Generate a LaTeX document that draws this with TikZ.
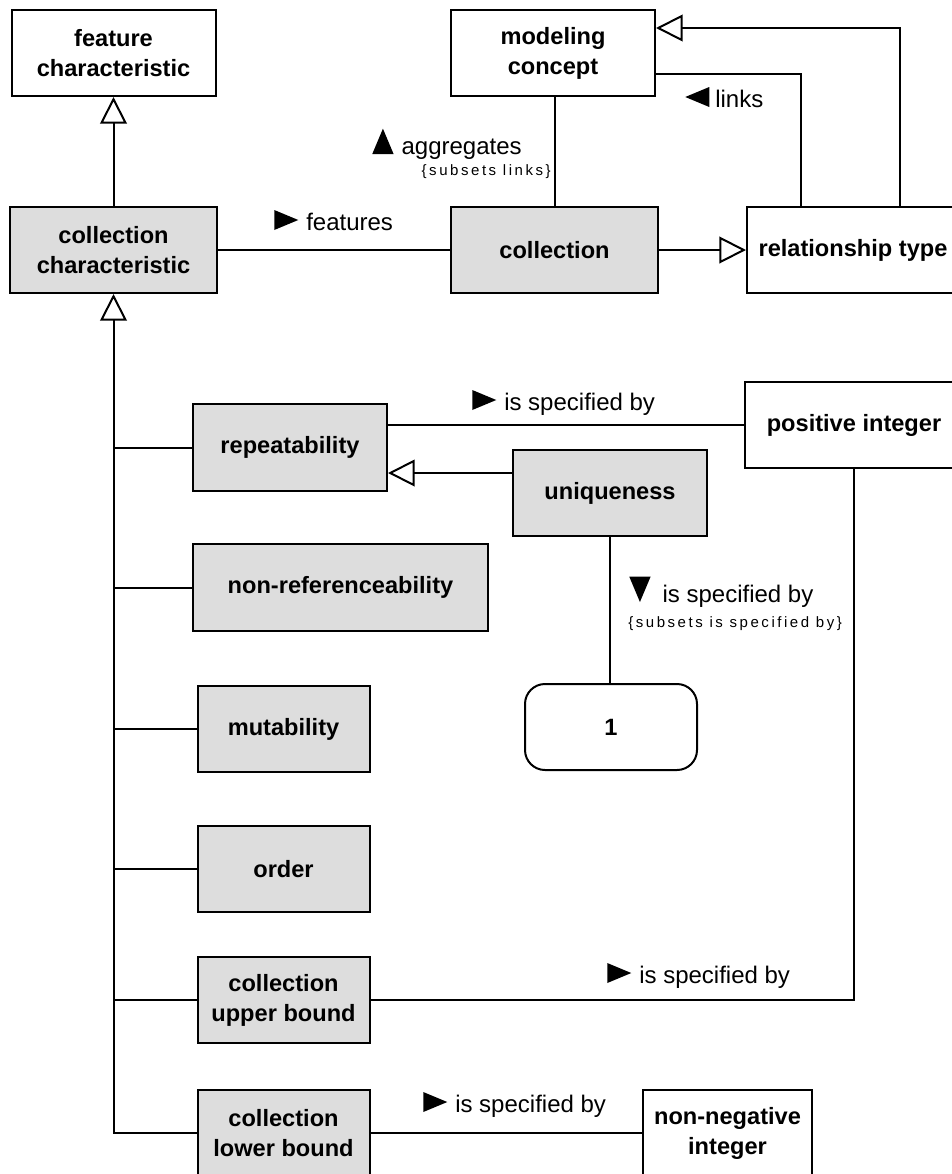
\documentclass[tikz,border=0pt]{standalone}
\usepackage{fontspec}
\setmainfont{Liberation Sans}
\newfontfamily\subfont[LetterSpace=17]{Liberation Sans}
\usetikzlibrary{arrows.meta,calc}
\definecolor{boxgray}{HTML}{DDDDDD}
\newcommand\trR{\tikz[baseline=0pt]\fill[black] (0pt,0pt)--(0pt,15pt)--(18pt,7.5pt)--cycle;}
\newcommand\trL{\tikz[baseline=0pt]\fill[black] (18pt,0pt)--(18pt,15pt)--(0pt,7.5pt)--cycle;}
\newcommand\trU{\tikz[baseline=0pt]\fill[black] (0pt,0pt)--(16pt,0pt)--(8pt,19pt)--cycle;}
\newcommand\trD{\tikz[baseline=0pt]\fill[black] (0pt,19pt)--(16pt,19pt)--(8pt,0pt)--cycle;}
\tikzset{
  umlbox/.style={draw, line width=1.5pt, inner sep=0pt, align=center,
    font=\fontsize{17.7}{22.5}\selectfont\bfseries},
  dims/.style 2 args={minimum width={#1*0.75pt}, minimum height={#2*0.75pt}},
  gbox/.style={umlbox, fill=boxgray},
  wbox/.style={umlbox, fill=white},
  conn/.style={line width=1.5pt},
  gen/.style={conn, -{Triangle[open, length=20pt, width=20pt]}},
  lbl/.style={inner sep=0pt, anchor=base west, font=\fontsize{18}{21}\selectfont},
  sublbl/.style={inner sep=0pt, font=\fontsize{11.25}{13}\subfont},
}
\begin{document}
\begin{tikzpicture}[x=0.75pt, y=-0.75pt]
\clip (0,0) rectangle (952,1174);
\fill[white] (0,0) rectangle (952,1174);

% nodes
\node[wbox, dims={204}{86}] (fc) at (113.5,53) {feature\\characteristic};
\node[gbox, dims={207}{86}] (cc) at (113.5,250) {collection\\characteristic};
\node[wbox, dims={204}{86}] (mc) at (553,53) {modeling\\concept};
\node[gbox, dims={207}{86}] (coll) at (554.5,250) {collection};
\node[wbox, dims={212}{86}] (rt) at (853,250) {relationship type};
\node[wbox, dims={218}{86}] (pi) at (854,425) {positive integer};
\node[gbox, dims={194}{87}] (rep) at (290,447.5) {repeatability};
\node[gbox, dims={194}{86}] (uniq) at (610,493) {uniqueness};
\node[gbox, dims={295}{87}] (nonref) at (340.5,587.5) {non-referenceability};
\node[wbox, dims={172}{86}, rounded corners=15pt] (one) at (611,727) {1};
\node[gbox, dims={172}{86}] (mut) at (283.5,729) {mutability};
\node[gbox, dims={172}{86}] (ord) at (283.5,869) {order};
\node[gbox, dims={172}{86}] (ub) at (283.5,1000) {collection\\upper bound};
\node[gbox, dims={172}{86}] (lb) at (283.5,1133) {collection\\lower bound};
\node[wbox, dims={169}{86}] (nn) at (727.5,1133) {non-negative\\integer};

% connectors
\draw[gen] (cc.north) -- (fc.south);
\draw[conn] (cc.east) -- (coll.west);
\draw[conn] (coll.north) -- (coll.north |- mc.south);
\draw[gen] (coll.east) -- (rt.west);
\coordinate (rtA) at ($(rt.north)+(47,0)$);
\coordinate (mcA) at ($(mc.north east)+(0,19)$);
\draw[gen] (rtA) |- (mcA);
\coordinate (rtB) at ($(rt.north)+(-52,0)$);
\coordinate (mcB) at ($(mc.east)+(0,21)$);
\draw[conn] (rtB) |- (mcB);

\draw[gen] (lb.west) -| (cc.south);
\foreach \n in {rep, nonref, mut, ord, ub}
  \draw[conn] (\n.west) -- (\n.west -| cc.south);

\draw[conn] (rep.east |- pi.west) -- (pi.west);
\coordinate (uA) at ($(uniq.west)+(0,-20)$);
\draw[gen] (uA) -- (uA -| rep.east);
\draw[conn] (uniq.south) -- (uniq.south |- one.north);
\draw[conn] (pi.south) |- (ub.east);
\draw[conn] (lb.east) -- (nn.west);

% labels
\node[lbl] (lfeat) at (274,230) {\trR\hspace{6pt}features};
\node[lbl] (llinks) at (685,107) {\trL\hspace{4.5pt}links};
\node[lbl] (lagg) at (372,154) {\trU\hspace{6pt}aggregates};
\node[sublbl, anchor=base east] (laggs) at (551,175) {\{subsets links\}};
\node[lbl] (lrep) at (472,410) {\trR\hspace{6pt}is specified by};
\node[lbl] (luniq) at (629,602) {\trD\hspace{9pt}is specified by};
\node[sublbl, anchor=base west] (luniqs) at (628,627) {\{subsets is specified by\}};
\node[lbl] (lub) at (607,983) {\trR\hspace{6pt}is specified by};
\node[lbl] (llb) at (423,1112) {\trR\hspace{6pt}is specified by};
\end{tikzpicture}
\end{document}
